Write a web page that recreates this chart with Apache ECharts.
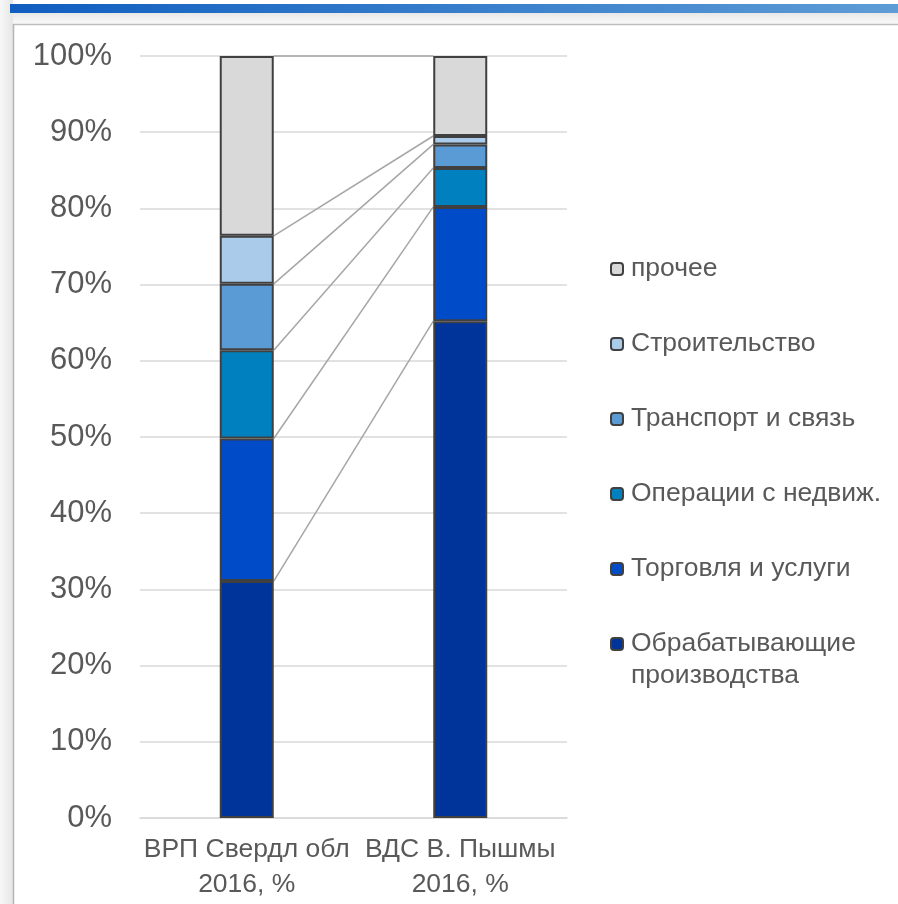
<!DOCTYPE html>
<html>
<head>
<meta charset="utf-8">
<script src="https://cdn.jsdelivr.net/npm/echarts@6/dist/echarts.min.js"></script>
<style>
html,body{margin:0;padding:0;background:#fff;}
#chart{width:898px;height:904px;}
</style>
</head>
<body>
<div id="chart"></div>
<script>
const categories = ['ВРП Свердл обл\n2016, %', 'ВДС В. Пышмы\n2016, %'];
const seriesNames = ['Обрабатывающие производства', 'Торговля и услуги', 'Операции с недвиж.', 'Транспорт и связь', 'Строительство', 'прочее'];
const manufacturing = [31.1, 65.2];
const trade = [18.7, 15.0];
const realEstate = [11.6, 5.1];
const transport = [8.7, 3.1];
const construction = [6.3, 1.1];
const other = [23.6, 10.5];
const yTicks = [0, 10, 20, 30, 40, 50, 60, 70, 80, 90, 100];

const values = [manufacturing, trade, realEstate, transport, construction, other];
const colors = ['#00349A', '#004BC8', '#0080BE', '#5B9BD5', '#ABCBEA', '#D9D9D9'];
const BAR_W = 54;

// cumulative tops for series lines
const cumA = [], cumB = [];
let sa = 0, sb = 0;
values.forEach(v => { sa += v[0]; sb += v[1]; cumA.push(+sa.toFixed(2)); cumB.push(+sb.toFixed(2)); });
const lineData = cumA.map((a, i) => [a, cumB[i]]);

const chart = echarts.init(document.getElementById('chart'), null, {renderer: 'canvas'});

const barSeries = seriesNames.map((name, i) => ({
  name: name,
  type: 'bar',
  stack: 'total',
  barWidth: BAR_W,
  data: values[i],
  itemStyle: {color: colors[i], borderColor: '#404040', borderWidth: 2},
  emphasis: {disabled: true},
  z: 3
}));

const seriesLines = {
  name: 'series lines',
  type: 'custom',
  data: lineData,
  z: 2,
  silent: true,
  renderItem: function (params, api) {
    const p0 = api.coord([0, api.value(0)]);
    const p1 = api.coord([1, api.value(1)]);
    return {
      type: 'line',
      shape: {x1: p0[0] + BAR_W / 2, y1: p0[1], x2: p1[0] - BAR_W / 2, y2: p1[1]},
      style: {stroke: '#A6A6A6', lineWidth: 1.5}
    };
  }
};

const legendText = {fontFamily: 'Liberation Sans, Arial, sans-serif', fontSize: 26.5, color: '#595959', lineHeight: 32, padding: [0, 0, 0, 3]};

const option = {
  backgroundColor: '#ffffff',
  animation: false,
  textStyle: {fontFamily: 'Liberation Sans, Arial, sans-serif'},
  graphic: [
    {type: 'rect', shape: {x: 0, y: 0, width: 13, height: 904}, style: {fill: new echarts.graphic.LinearGradient(0, 0, 1, 0, [{offset: 0, color: '#f7f7f7'}, {offset: 1, color: '#e6e6e6'}])}, z: -10, silent: true},
    {type: 'rect', shape: {x: 13, y: 12, width: 885, height: 12}, style: {fill: new echarts.graphic.LinearGradient(0, 0, 0, 1, [{offset: 0, color: '#e6e6e6'}, {offset: 1, color: '#f9f9f9'}])}, z: -10, silent: true},
    {type: 'rect', shape: {x: 10, y: 4, width: 888, height: 9}, style: {fill: new echarts.graphic.LinearGradient(0, 0, 1, 0, [{offset: 0, color: '#0F5EC0'}, {offset: 1, color: '#5E9CD6'}])}, z: -9, silent: true},
    {type: 'line', shape: {x1: 13, y1: 24.5, x2: 898, y2: 24.5}, style: {stroke: '#BDBDBD', lineWidth: 1.5}, z: -8, silent: true},
    {type: 'line', shape: {x1: 13.5, y1: 24, x2: 13.5, y2: 904}, style: {stroke: '#B5B5B5', lineWidth: 1.5}, z: -8, silent: true}
  ],
  grid: {left: 140, right: 331, top: 56, bottom: 86, containLabel: false},
  legend: [
    {
      orient: 'vertical',
      left: 605,
      top: 248,
      itemWidth: 12,
      itemHeight: 12,
      itemGap: 43,
      data: ['прочее', 'Строительство', 'Транспорт и связь', 'Операции с недвиж.', 'Торговля и услуги'],
      textStyle: legendText,
      selectedMode: false
    },
    {
      orient: 'vertical',
      left: 605,
      top: 591,
      itemWidth: 12,
      itemHeight: 12,
      data: ['Обрабатывающие производства'],
      formatter: function () { return '\nОбрабатывающие\nпроизводства'; },
      textStyle: legendText,
      selectedMode: false
    }
  ],
  xAxis: {
    type: 'category',
    data: categories,
    axisLine: {show: true, lineStyle: {color: '#D9D9D9', width: 1.5}},
    axisTick: {show: false},
    axisLabel: {color: '#595959', fontSize: 26.5, lineHeight: 35, margin: 14, interval: 0}
  },
  yAxis: {
    type: 'value',
    min: yTicks[0],
    max: yTicks[yTicks.length - 1],
    interval: 10,
    axisLine: {show: false},
    axisTick: {show: false},
    splitLine: {lineStyle: {color: '#D9D9D9', width: 1.5}},
    axisLabel: {color: '#595959', fontSize: 31, margin: 28, formatter: '{value}%'}
  },
  series: barSeries.concat([seriesLines])
};
chart.setOption(option);
</script>
</body>
</html>
